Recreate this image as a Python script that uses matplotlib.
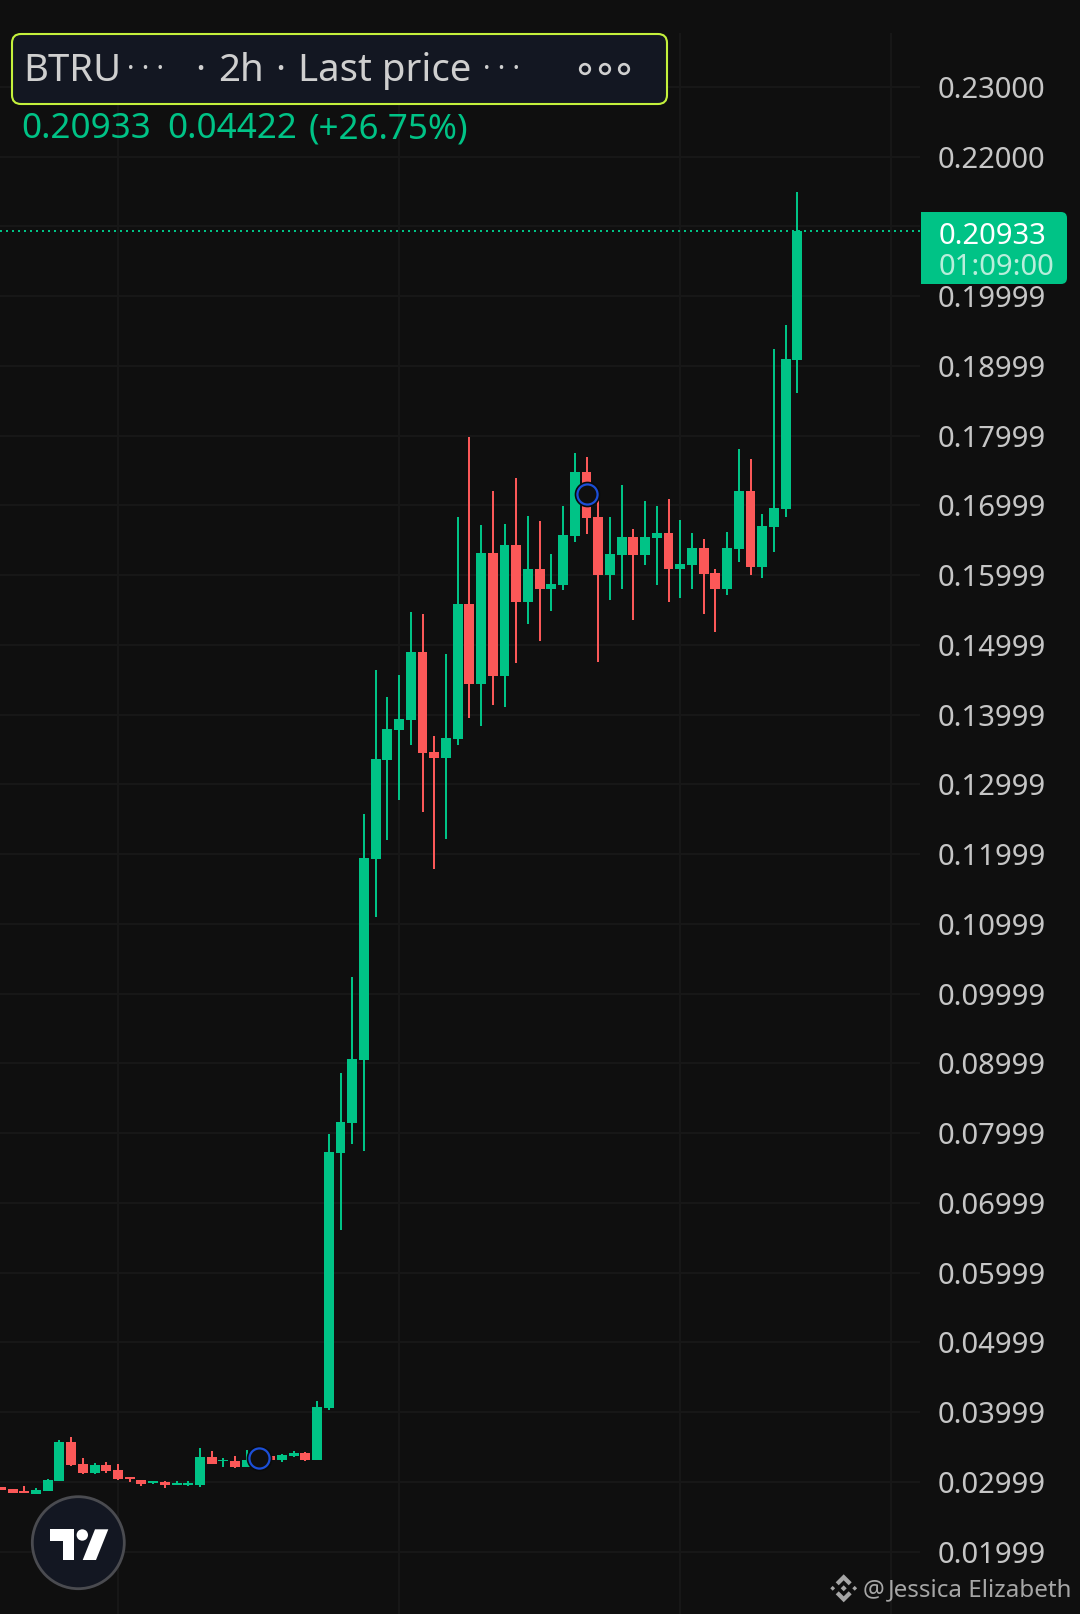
import numpy as np
import matplotlib
matplotlib.use('Agg')
import matplotlib.pyplot as plt
from matplotlib.patches import FancyBboxPatch, Rectangle, Circle, Polygon

plt.rcParams['font.family'] = ['Noto Sans', 'DejaVu Sans']

# OHLC, oldest candle first
opens = [0.02927, 0.02898, 0.02865, 0.02827, 0.02870, 0.03013, 0.03572, 0.03257, 0.03128, 0.03242,
         0.03171, 0.03070, 0.03027, 0.02984, 0.02999, 0.02956, 0.02956, 0.02956, 0.03357, 0.03295,
         0.03300, 0.03214, 0.03371, 0.03371, 0.03314, 0.03371, 0.03414, 0.03314, 0.04057, 0.07717,
         0.08145, 0.09050, 0.11930, 0.13349, 0.13780, 0.13923, 0.14898, 0.13464, 0.13378, 0.13651,
         0.15586, 0.14439, 0.16317, 0.14554, 0.16432, 0.15615, 0.16088, 0.15801, 0.15859, 0.16562,
         0.17479, 0.16834, 0.16003, 0.16289, 0.16547, 0.16289, 0.16533, 0.16605, 0.16089, 0.16146,
         0.16390, 0.16031, 0.15802, 0.16375, 0.17207, 0.16117, 0.16691, 0.16949, 0.19085]
closes = [0.02879, 0.02841, 0.02841, 0.02884, 0.03027, 0.03572, 0.03242, 0.03128, 0.03242, 0.03156,
          0.03042, 0.03046, 0.02970, 0.03013, 0.02956, 0.02984, 0.02984, 0.03357, 0.03257, 0.03314,
          0.03214, 0.03314, 0.03314, 0.03314, 0.03386, 0.03414, 0.03314, 0.04074, 0.07728, 0.08161,
          0.09061, 0.11944, 0.13364, 0.13794, 0.13937, 0.14898, 0.13450, 0.13378, 0.13665, 0.15586,
          0.14439, 0.16317, 0.14554, 0.16432, 0.15615, 0.16088, 0.15801, 0.15873, 0.16576, 0.17479,
          0.16820, 0.16003, 0.16304, 0.16547, 0.16289, 0.16547, 0.16605, 0.16089, 0.16160, 0.16390,
          0.16017, 0.15802, 0.16390, 0.17207, 0.16117, 0.16705, 0.16963, 0.19099, 0.20933]
highs = [0.02927, 0.02898, 0.02941, 0.02913, 0.03042, 0.03601, 0.03644, 0.03343, 0.03271, 0.03285,
         0.03257, 0.03070, 0.03027, 0.03013, 0.03013, 0.03013, 0.03013, 0.03486, 0.03443, 0.03343,
         0.03371, 0.03457, 0.03400, 0.03371, 0.03400, 0.03443, 0.03429, 0.04160, 0.07986, 0.08864,
         0.10241, 0.12575, 0.14640, 0.14253, 0.14568, 0.15471, 0.15443, 0.13694, 0.14869, 0.16833,
         0.17980, 0.16719, 0.17206, 0.16733, 0.17392, 0.16848, 0.16776, 0.16303, 0.16992, 0.17752,
         0.17694, 0.17126, 0.16834, 0.17293, 0.16662, 0.17063, 0.16992, 0.17092, 0.16791, 0.16605,
         0.16519, 0.16089, 0.16619, 0.17809, 0.17666, 0.16877, 0.19243, 0.19587, 0.21494]
lows = [0.02879, 0.02841, 0.02841, 0.02827, 0.02870, 0.03013, 0.03228, 0.03113, 0.03113, 0.03128,
        0.03027, 0.02999, 0.02941, 0.02970, 0.02913, 0.02956, 0.02941, 0.02927, 0.03257, 0.03214,
        0.03199, 0.03214, 0.03314, 0.03314, 0.03285, 0.03357, 0.03300, 0.03314, 0.04029, 0.06608,
        0.07843, 0.07744, 0.11097, 0.12202, 0.12776, 0.13564, 0.12604, 0.11787, 0.12217, 0.13564,
        0.13952, 0.13837, 0.14138, 0.14109, 0.14740, 0.15299, 0.15056, 0.15486, 0.15787, 0.16476,
        0.16590, 0.14755, 0.15644, 0.15802, 0.15357, 0.16146, 0.15859, 0.15615, 0.15673, 0.15802,
        0.15443, 0.15185, 0.15716, 0.16189, 0.16003, 0.15959, 0.16332, 0.16834, 0.18612]

# candles carrying the blue ring, and the price the ring sits at
ring_candles = [22, 50]
ring_prices = [0.03343, 0.17164]

# price scale
price_ticks = [0.23000, 0.22000, 0.20999, 0.19999, 0.18999, 0.17999, 0.16999, 0.15999, 0.14999, 0.13999,
               0.12999, 0.11999, 0.10999, 0.09999, 0.08999, 0.07999, 0.06999, 0.05999, 0.04999, 0.03999,
               0.02999, 0.01999]
price_labels = ['0.23000', '0.22000', '', '0.19999', '0.18999', '0.17999', '0.16999', '0.15999', '0.14999',
                '0.13999', '0.12999', '0.11999', '0.10999', '0.09999', '0.08999', '0.07999', '0.06999',
                '0.05999', '0.04999', '0.03999', '0.02999', '0.01999']
time_grid = [10, 34, 58, 76]

last_price = 0.20933
last_label = '0.20933'
countdown = '01:09:00'
change_label = '0.04422'
change_pct = '(+26.75%)'

BG = '#0f0f0f'
GRID = '#171717'
GREEN = '#00c386'
RED = '#fb5858'
PANEL = '#131722'
AXIS_TEXT = '#c6c6c6'

fig = plt.figure(figsize=(10.8, 16.14), dpi=100, facecolor=BG)
ax = fig.add_axes([0, 0, 920 / 1080, 1], facecolor=BG)

o = np.array(opens)
c = np.array(closes)
x = np.arange(len(o))
colors = [GREEN if cl >= op else RED for op, cl in zip(o, c)]

ax.vlines(x, lows, highs, colors=colors, linewidth=1.44, zorder=3)
ax.bar(x, np.abs(c - o), bottom=np.minimum(o, c), width=0.85, color=colors, zorder=3)

# blue rings, hollow so they hide the candle behind
ax.plot(ring_candles, ring_prices, 'o', ms=17, mfc=BG, mec='#0a0a0a', mew=1.5, zorder=4)
ax.plot(ring_candles, ring_prices, 'o', ms=14.5, mfc=BG, mec='#1c4fd8', mew=1.6, zorder=5)

ax.axhline(last_price, color=GREEN, linewidth=1.44, linestyle=(0, (1, 2)), zorder=2)

# vertical grid stops just under the top of the picture
ax.vlines(time_grid, 0.01106, 0.2377, color=GRID, linewidth=1.44, zorder=0)

ax.set_xlim(-0.07, 78.47)
ax.set_ylim(0.01106, 0.24246)
ax.set_xticks([])
ax.set_yticks(price_ticks)
ax.set_yticklabels(price_labels)
ax.yaxis.tick_right()
ax.tick_params(axis='y', length=0, pad=12.8, labelsize=21, labelcolor=AXIS_TEXT)
ax.grid(True, axis='y', color=GRID, linewidth=1.44, zorder=0)
ax.set_axisbelow(True)
for s in ax.spines.values():
    s.set_visible(False)

# overlay in picture pixels for the app chrome
ui = fig.add_axes([0, 0, 1, 1], facecolor='none')
ui.set_xlim(0, 1080)
ui.set_ylim(1614, 0)
ui.axis('off')

# legend panel
ui.add_patch(FancyBboxPatch((12, 34), 655, 70, boxstyle='round,pad=0,rounding_size=9',
                            fc=PANEL, ec='#c4f13c', lw=1.5))
head = dict(fontsize=27.6, color='#cfcfcf', va='baseline')
ui.text(23, 81, 'BTRU', **head)
ui.text(127, 77, '· · ·', fontsize=20, color='#cfcfcf', va='baseline')
ui.text(195, 81, '·', fontsize=27, color='#cfcfcf', va='baseline', fontweight='bold')
ui.text(218, 81, '2h', **head)
ui.text(275, 81, '·', fontsize=27, color='#cfcfcf', va='baseline', fontweight='bold')
ui.text(298, 81, 'Last price', **head)
ui.text(483, 77, '· · ·', fontsize=20, color='#cfcfcf', va='baseline')
for cx in [585, 605, 624]:
    ui.add_patch(Circle((cx, 69), 4.8, fc='none', ec='#d0d0d0', lw=1.9))

ui.text(21, 138, last_label, fontsize=25.2, color=GREEN, va='baseline')
ui.text(167, 138, change_label, fontsize=25.2, color=GREEN, va='baseline')
ui.text(309, 138, change_pct, fontsize=25.2, color=GREEN, va='baseline')

# last price tag, square on the left, round on the right
ui.add_patch(FancyBboxPatch((921, 212), 146, 72, boxstyle='round,pad=0,rounding_size=6', fc=GREEN, ec='none'))
ui.add_patch(Rectangle((921, 212), 20, 72, fc=GREEN, ec='none'))
ui.text(993, 244, last_label, fontsize=21, color='white', ha='center', va='baseline')
ui.text(997, 275, countdown, fontsize=21, color='#b8eedb', ha='center', va='baseline')

# TradingView badge
ui.add_patch(Circle((78.3, 1542.7), 46, fc=PANEL, ec='#4a4b50', lw=2))
ui.add_patch(Polygon([(50, 1529.3), (74, 1529.3), (74, 1560), (63.3, 1560), (63.3, 1540.7), (50, 1540.7)], fc='white', ec='none'))
ui.add_patch(Circle((82.3, 1535), 5.7, fc='white', ec='none'))
ui.add_patch(Polygon([(95, 1529.3), (108.3, 1529.3), (96, 1560), (82.7, 1560)], fc='white', ec='none'))

# watermark
MARK = '#a6a6a6'
ui.text(863, 1596, '@', fontsize=17.5, color=MARK, va='baseline')
ui.text(888, 1596, 'Jessica Elizabeth', fontsize=17.4, color=MARK, va='baseline')
cx, cy = 843.7, 1588.3
for dx, r in [(-11, 2.4), (11, 2.4), (0, 3)]:
    ui.add_patch(Polygon([(cx + dx - r, cy), (cx + dx, cy - r), (cx + dx + r, cy), (cx + dx, cy + r)], fc=MARK, ec='none'))
for sgn in [-1, 1]:
    ui.add_patch(Polygon([(cx, cy + sgn * 14), (cx + 8, cy + sgn * 6), (cx + 5, cy + sgn * 3),
                          (cx, cy + sgn * 8), (cx - 5, cy + sgn * 3), (cx - 8, cy + sgn * 6)], fc=MARK, ec='none'))

fig.savefig('out.png', dpi=100, facecolor=BG)
